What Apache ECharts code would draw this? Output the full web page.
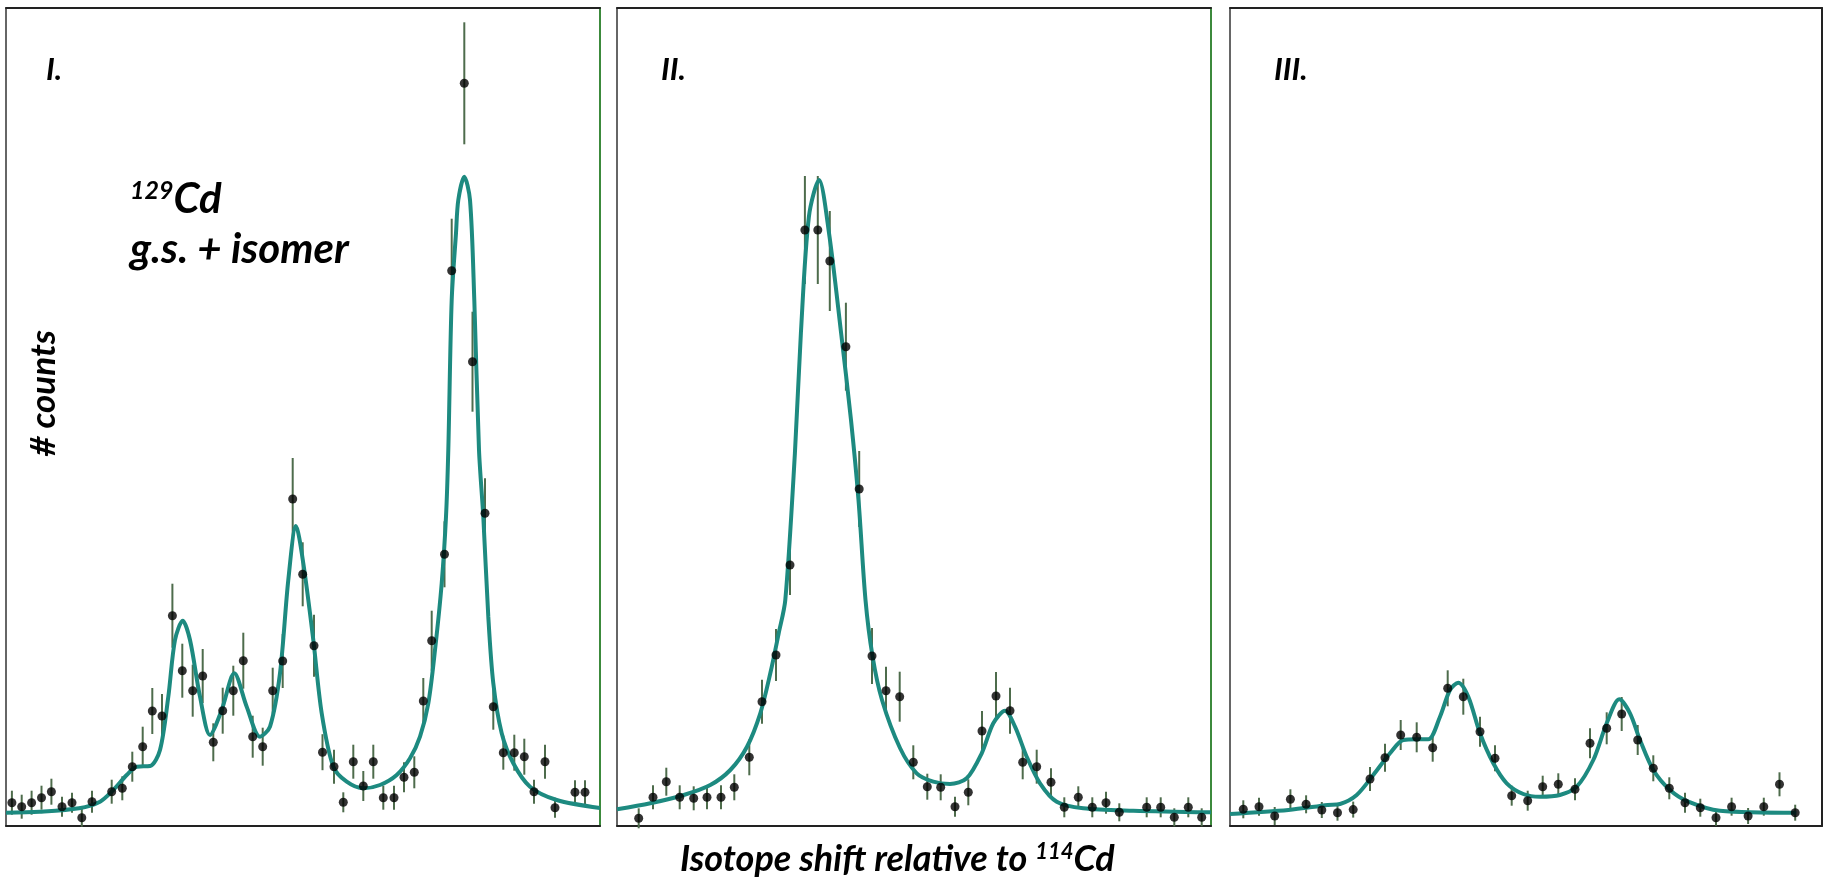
<!DOCTYPE html>
<html>
<head>
<meta charset="utf-8">
<title>129Cd isotope shift</title>
<script src="https://cdn.jsdelivr.net/npm/echarts@6/dist/echarts.min.js"></script>
<style>
    html, body { margin: 0; padding: 0; background: #fff; }
    #main { width: 1825px; height: 885px; }
</style>
</head>
<body>
<div id="main"></div>
<script>
// 三个面板的数据 (channel, counts, error)
// panel I
let p1X = [2.95, 7.85, 12.8, 17.75, 22.7, 28, 33, 37.9, 43, 52.85, 58.15, 63.15, 68.35, 73.15, 78, 83.2, 88.15, 93.35, 98.35, 103.65,
    108.35, 113.65, 118.65, 123.35, 128.35, 133.35, 138.35, 143.35, 148.35, 154, 158.25, 164, 168.65, 173.65, 178.65, 183.65, 188.65, 194, 199, 204.15,
    208.65, 212.85, 219.25, 222.85, 229.15, 233.25, 239.5, 243.65, 248.65, 254.15, 259.15, 264, 269.5, 274.5, 284.5, 289.5];
let p1Y = [11.65, 9.65, 11.65, 14.15, 17.15, 9.65, 11.65, 4.15, 12.15, 17.15, 18.85, 29.65, 39.65, 57.5, 55, 105.15, 77.65, 67.65, 75, 41.85,
    57.65, 67.65, 82.65, 44.65, 39.65, 67.65, 82.5, 163.5, 125.85, 90.15, 36.9, 29.65, 11.85, 32.15, 20, 32.15, 14.15, 14.15, 24.35, 26.85,
    62.5, 92.65, 135.85, 277.65, 371.35, 232.15, 156.35, 59.65, 36.65, 36.65, 34.65, 17.15, 32.15, 9.15, 16.85, 16.85];
let p1Err = [6, 6, 6, 6, 6.5, 5, 5, 4.5, 5.5, 6, 6, 7.5, 10, 11.5, 11, 16, 13.5, 13, 13.5, 9.5,
    11.5, 12.5, 14, 10.5, 9.5, 11.5, 13.5, 20.5, 16, 15.5, 9, 8.5, 5, 8.5, 7.5, 8.5, 6, 6, 7.5, 8,
    11.5, 15, 16.5, 26, 30.5, 25, 17.5, 11.5, 8.5, 9, 9, 6, 8.5, 5, 6, 6];
// 拟合曲线 panel I
let fit1X = [0, 16.75, 36.5, 47, 53.65, 60.35, 65.35, 72, 77, 81.15, 84.5, 88.35, 92, 97, 102, 107.85, 114.15, 120.35, 127, 132,
    137, 141.15, 145, 148.65, 153.65, 157.85, 163.65, 170.35, 178.65, 187, 195.35, 202, 207, 211.15, 214.5, 217.85, 220, 221.15, 222.85, 225,
    226.15, 229.15, 232, 234.15, 236.5, 238.65, 241.15, 243.65, 247.85, 253.65, 262, 275.35, 297];
let fit1Y = [6.65, 7.15, 8.85, 12.15, 18, 25.5, 29.65, 30, 38, 64.65, 93, 102.65, 93, 64.65, 45.5, 58, 76.35, 59.65, 44.65, 49.65,
    76.35, 123, 150, 131.35, 93, 56.35, 29.65, 22.15, 18.85, 20.5, 25.5, 33.85, 44.65, 61.35, 88, 121.35, 154.65, 188, 263, 296.5,
    313, 324.65, 313, 263, 188, 154.65, 104.65, 71.35, 46.35, 31.35, 19.65, 13, 9];

// panel II
let p2X = [10.85, 18, 24.65, 31.35, 38.35, 45, 52, 58.65, 66.15, 72.5, 79.5, 86.5, 93.95, 100.4, 106.4, 114.45, 121.1, 127.5, 134.5, 141.35,
    148.15, 155.15, 161.85, 169, 175.65, 182.5, 189.5, 196.5, 202.85, 209.85, 217, 223.65, 230.65, 237.65, 244.5, 251.15, 264.85, 271.85, 278.65, 285.65, 292.35];
let p2Y = [3.85, 14.35, 22.15, 14.35, 13.85, 14.35, 14.35, 19.35, 34.35, 62.15, 85.5, 130.5, 298, 298, 282.5, 239.65, 168.5, 85, 67.65, 64.65,
    31.85, 19.65, 19.35, 9.65, 16.85, 47.5, 65, 57.65, 31.85, 29.65, 21.85, 9.35, 14.35, 9.35, 11.65, 6.85, 9.35, 9.35, 4.35, 9.35, 4.35];
let p2Err = [5, 6, 7, 6, 6, 6, 6, 6.5, 9, 11, 13, 15, 27, 27, 25, 22, 19, 14, 12, 12.5,
    8.5, 6.5, 6.5, 5, 6.5, 10, 12, 11.5, 8.5, 8.5, 7, 5, 5.5, 5, 5.5, 4.5, 5, 5, 4.5, 5, 4.5];
let fit2X = [0, 16.65, 33.35, 46.65, 56.65, 65, 71.65, 76.65, 80.85, 84.15, 88.95, 91.95, 95.95, 101, 106, 112.05, 117, 120.75, 124.25, 127.75,
    132.5, 141.5, 149.85, 158.15, 166.5, 174.85, 182.35, 188.15, 194, 199, 204.85, 211.5, 219.85, 233.15, 258.15, 297];
let fit2Y = [8.35, 11.35, 15.5, 20.5, 28, 39.65, 56.35, 76.35, 96.35, 113, 186.35, 246.5, 304.65, 323, 296.5, 246.5, 203, 163, 113, 85,
    63, 39, 26.35, 22.15, 21, 23.85, 36.35, 51.35, 57.65, 49.65, 34.65, 21.35, 12.15, 8.85, 7.65, 6.85];

// panel III
let p3X = [6.65, 14.5, 22.35, 30.2, 38.05, 45.9, 53.75, 61.6, 70, 77.5, 85.35, 93.35, 101.35, 108.85, 116.65, 125, 132.5, 140.85, 148.85, 156.35,
    164.15, 172.5, 180, 188.35, 195.85, 203.85, 211.65, 219.65, 227.5, 235.15, 243, 250.8, 259.05, 266.9, 274.75, 282.6];
let p3Y = [8.35, 9.65, 5, 13.35, 10.85, 8, 6.65, 8.2, 23.5, 34.15, 45.5, 44.35, 39.15, 68.85, 64.65, 47.15, 33.85, 15.15, 12.65, 19.65,
    20.85, 18.35, 41.35, 48.85, 56, 43, 28.85, 18.85, 11.65, 9.15, 4.15, 9.65, 5, 9.65, 20.85, 6.65];
let p3Err = [4.5, 4.5, 4.5, 5, 4.5, 4, 4, 4, 6, 7, 7.5, 7.5, 7, 9, 9, 7.5, 6.5, 5, 5, 5.5,
    5.5, 5.5, 7.5, 8, 8.5, 7.5, 6.5, 5.5, 5, 4.5, 4, 4.5, 4, 4.5, 6, 4];
let fit3X = [0, 29.2, 48.85, 55, 63.35, 71.65, 80, 86.65, 93.35, 99.15, 105, 110, 114.15, 119.15, 125, 131.65, 138.35, 146.65, 155, 165,
    173.35, 181.65, 188.35, 194.65, 200, 205, 211.65, 220, 229.15, 244.95, 283.15];
let fit3Y = [6, 8, 10.5, 11, 15.5, 25.5, 36.35, 43, 43.35, 43.35, 54.65, 68, 71.65, 64.65, 46.35, 31.35, 21.35, 16, 14.65, 15.5,
    19.65, 33, 51.35, 63.35, 56.35, 43, 28, 18, 12.15, 7.65, 6.65];

let xMax = [297, 297, 296];
let yMax = 409;

let fitColor = '#1d8a80';
let barColor = '#4e6c4c';
let green = '#3c8a3c';
let dark = '#222';

// 把 x,y 数组拼成 [x,y]
function pairs(xs, ys) {
    let out = [];
    for (let i = 0; i < xs.length; i++) {
        out.push([xs[i], ys[i]]);
    }
    return out;
}

// 误差棒数据 [x, low, high]
function bars(xs, ys, es) {
    let out = [];
    for (let i = 0; i < xs.length; i++) {
        out.push([xs[i], ys[i] - es[i], ys[i] + es[i]]);
    }
    return out;
}

function renderBar(params, api) {
    let a = api.coord([api.value(0), api.value(1)]);
    let b = api.coord([api.value(0), api.value(2)]);
    return {
        type: 'line',
        shape: { x1: a[0], y1: a[1], x2: b[0], y2: b[1] },
        style: { stroke: barColor, lineWidth: 2 }
    };
}

let grids = [
    { left: 6, top: 8, width: 594, height: 818 },
    { left: 617, top: 8, width: 594, height: 818 },
    { left: 1230, top: 8, width: 592, height: 818 }
];
// 右边框颜色
let rightColors = [green, green, dark];

let xAxes = [];
let yAxes = [];
let series = [];
let panels = [
    { px: p1X, py: p1Y, pe: p1Err, fx: fit1X, fy: fit1Y },
    { px: p2X, py: p2Y, pe: p2Err, fx: fit2X, fy: fit2Y },
    { px: p3X, py: p3Y, pe: p3Err, fx: fit3X, fy: fit3Y }
];

for (let i = 0; i < 3; i++) {
    // bottom + top
    xAxes.push({
        gridIndex: i, type: 'value', min: 0, max: xMax[i], position: 'bottom',
        axisLine: { show: true, onZero: false, lineStyle: { color: dark, width: 2 } },
        axisTick: { show: false }, axisLabel: { show: false }, splitLine: { show: false }
    });
    xAxes.push({
        gridIndex: i, type: 'value', min: 0, max: xMax[i], position: 'top',
        axisLine: { show: true, onZero: false, lineStyle: { color: dark, width: 2 } },
        axisTick: { show: false }, axisLabel: { show: false }, splitLine: { show: false }
    });
    // left + right
    yAxes.push({
        gridIndex: i, type: 'value', min: 0, max: yMax, position: 'left',
        axisLine: { show: true, onZero: false, lineStyle: { color: '#333', width: 1.5 } },
        axisTick: { show: false }, axisLabel: { show: false }, splitLine: { show: false }
    });
    yAxes.push({
        gridIndex: i, type: 'value', min: 0, max: yMax, position: 'right',
        axisLine: { show: true, onZero: false, lineStyle: { color: rightColors[i], width: 2 } },
        axisTick: { show: false }, axisLabel: { show: false }, splitLine: { show: false }
    });

    let p = panels[i];
    series.push({
        type: 'custom',
        xAxisIndex: i * 2, yAxisIndex: i * 2,
        renderItem: renderBar,
        data: bars(p.px, p.py, p.pe),
        z: 2
    });
    series.push({
        type: 'line',
        xAxisIndex: i * 2, yAxisIndex: i * 2,
        data: pairs(p.fx, p.fy),
        smooth: 0.3,
        showSymbol: false,
        lineStyle: { color: fitColor, width: 4 },
        z: 3
    });
    series.push({
        type: 'scatter',
        xAxisIndex: i * 2, yAxisIndex: i * 2,
        data: pairs(p.px, p.py),
        symbolSize: 9,
        itemStyle: { color: '#000' },
        z: 4
    });
}

let font = 'Lato, "Open Sans", sans-serif';
let txt = {
    fontFamily: font, fontWeight: 'bold', fontStyle: 'italic', fill: '#000'
};

let myChart = echarts.init(document.getElementById('main'));

let option = {
    backgroundColor: '#fff',
    animation: false,
    grid: grids,
    xAxis: xAxes,
    yAxis: yAxes,
    series: series,
    graphic: [
        { type: 'text', left: 46, top: 54, style: Object.assign({ text: 'I.', fontSize: 31 }, txt) },
        { type: 'text', left: 661, top: 54, style: Object.assign({ text: 'II.', fontSize: 31 }, txt) },
        { type: 'text', left: 1274, top: 54, style: Object.assign({ text: 'III.', fontSize: 31 }, txt) },
        {
            type: 'text', left: 130, top: 178,
            style: {
                text: '{sup|129}{big|Cd}',
                rich: {
                    sup: { fontFamily: font, fontWeight: 'bold', fontStyle: 'italic', fontSize: 25, padding: [0, 0, 16, 0] },
                    big: { fontFamily: font, fontWeight: 'bold', fontStyle: 'italic', fontSize: 42 }
                }
            }
        },
        { type: 'text', left: 130, top: 228, style: Object.assign({ text: 'g.s. + isomer', fontSize: 42 }, txt) },
        {
            type: 'text', left: 26, top: 330, rotation: Math.PI / 2,
            style: Object.assign({ text: '# counts', fontSize: 35 }, txt)
        },
        {
            type: 'text', left: 680, top: 841,
            style: {
                text: '{t|Isotope shift relative to }{sup|114}{t|Cd}',
                rich: {
                    t: { fontFamily: font, fontWeight: 'bold', fontStyle: 'italic', fontSize: 36 },
                    sup: { fontFamily: font, fontWeight: 'bold', fontStyle: 'italic', fontSize: 22, padding: [0, 0, 15, 0] }
                }
            }
        }
    ]
};

myChart.setOption(option);
</script>
</body>
</html>
